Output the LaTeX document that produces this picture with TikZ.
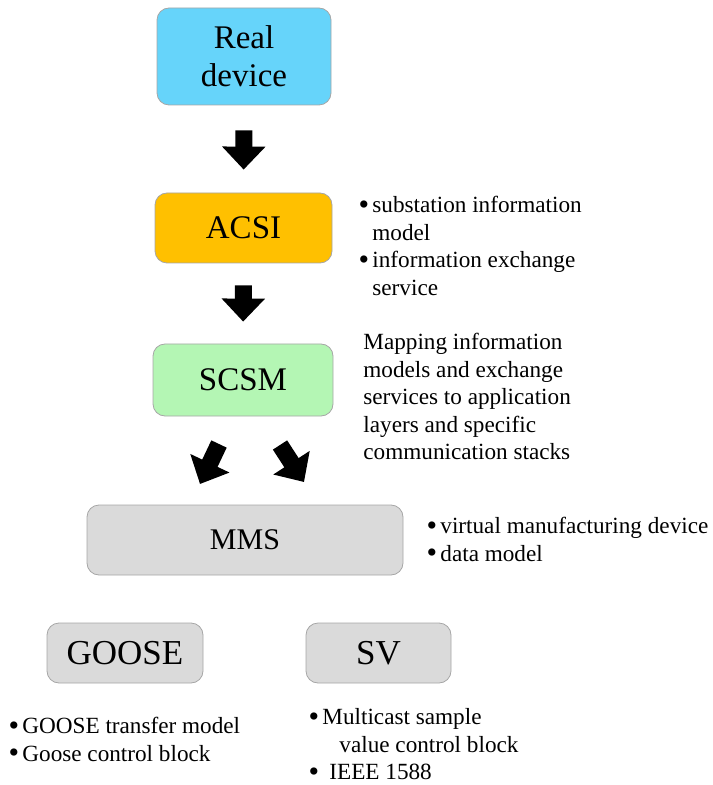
\documentclass[tikz,border=0pt]{standalone}
\usepackage{graphicx}
\usepackage{fontspec}
\setmainfont{Liberation Serif}
\usetikzlibrary{arrows.meta}

\definecolor{devblue}{RGB}{102,212,250}
\definecolor{acsiorange}{RGB}{255,192,0}
\definecolor{scsmgreen}{RGB}{180,246,180}
\definecolor{boxgray}{RGB}{218,218,218}
\newcommand{\bul}{\makebox[6.5pt][l]{\hspace{-0.4pt}\raisebox{-0.9pt}{\scalebox{1.3}{\textbullet}}}}

\begin{document}
\begin{tikzpicture}[
			x=0.5pt, y=-0.5pt,
			layer box/.style={
				draw=gray!70, fill=#1,
				rounded corners=6pt, inner sep=0pt,
				align=center, font=\fontsize{16.5}{19}\selectfont
			},
			fat arrow/.style={
				line width=8.5pt,
				-{Triangle[length=11.5pt, width=21pt]}
			},
			note/.style={
				anchor=north west, inner sep=0pt, align=left,
				font=\fontsize{11.6}{13.8}\selectfont
			}
			]
			\useasboundingbox (0,0) rectangle (712,785);
			
			\node[layer box=devblue, minimum width=87pt, minimum height=48.5pt] (real) at (244,56.5) {Real\\device};
			\node[layer box=acsiorange, minimum width=88.5pt, minimum height=35pt] (acsi) at (243.5,228) {ACSI};
			\node[layer box=scsmgreen, minimum width=90pt, minimum height=36pt] (scsm) at (243,380) {SCSM};
			\node[layer box=boxgray, minimum width=158pt, minimum height=35pt, font=\fontsize{15}{18}\selectfont] (mms) at (245,540) {MMS};
			
			\node[layer box=boxgray, minimum width=78pt, minimum height=30pt, font=\fontsize{17.5}{20}\selectfont] (goose) at (125,653) {GOOSE};
			\node[layer box=boxgray, minimum width=72.5pt, minimum height=30pt, font=\fontsize{17.5}{20}\selectfont] (sv) at (378.5,653) {SV};
			
			\draw[fat arrow, shorten <=12.5pt, shorten >=11.5pt] (real.south) -- (acsi.north);
			\draw[fat arrow, shorten <=11pt, shorten >=11pt] (acsi.south) -- (scsm.north);
			
			\coordinate (splitL) at (219,444);
			\coordinate (tipL) at (200,484);
			\coordinate (splitR) at (280,445);
			\coordinate (tipR) at (304,482);
			\draw[fat arrow] (splitL) -- (tipL);
			\draw[fat arrow] (splitR) -- (tipR);
			
			\node[note] (acsi notes) at (359,192.7) {\strut\bul substation information\\\hspace*{6.5pt}model\\\bul information exchange\\\hspace*{6.5pt}service};
			\node[note] (scsm notes) at (363,329.7) {\strut Mapping information\\models and exchange\\services to application\\layers and specific\\communication stacks};
			\node[note] (mms notes) at (427,513.7) {\strut\bul virtual manufacturing device\\\bul data model};
			\node[note] (goose notes) at (9,713.7) {\strut\bul GOOSE transfer model\\\bul Goose control block};
			\node[note] (sv notes) at (309,704.7) {\strut\bul Multicast sample\\\hspace*{15pt}value control block\\\bul\hspace{3.5pt}IEEE 1588};
			
		\end{tikzpicture}
\end{document}
